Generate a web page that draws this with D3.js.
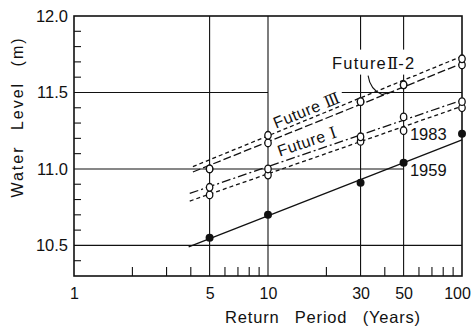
<!DOCTYPE html>
<html>
<head>
<meta charset="utf-8">
<script src="https://cdn.jsdelivr.net/npm/d3@7"></script>
<style>
  html, body { margin: 0; padding: 0; background: #fff; }
  svg { display: block; }
  text { font-family: "Liberation Sans", sans-serif; fill: #111; }
  tspan.numeral { font-family: "DejaVu Serif", "Liberation Serif", serif; }
</style>
</head>
<body>
<svg id="chart" width="472" height="329"></svg>
<script>
// Return periods (years) at which water levels were evaluated
const returnPeriods = [5, 10, 30, 50, 100];

// Water level (m) for each return period
const level1959      = [10.55, 10.70, 10.91, 11.04, 11.23];
const level1983      = [10.83, 10.96, 11.18, 11.25, 11.40];
const levelFutureI   = [10.88, 11.00, 11.21, 11.34, 11.44];
const levelFutureII2 = [11.00, 11.17, 11.44, 11.55, 11.68];
const levelFutureIII = [11.00, 11.22, 11.44, 11.55, 11.72];

// Fitted lines: [start, end] as [return period, water level]
const fit1959      = [[3.9, 10.49], [100, 11.19]];
const fit1983      = [[3.95, 10.79], [100, 11.41]];
const fitFutureI   = [[3.95, 10.84], [100, 11.45]];
const fitFutureII2 = [[4.1, 10.98], [100, 11.69]];
const fitFutureIII = [[4.1, 11.015], [100, 11.737]];

// Axis ticks
const xTickValues  = [1, 5, 10, 30, 50, 100];
const xMinorTicks  = [2, 3, 4, 6, 7, 8, 9, 20, 40, 60, 70, 80, 90];
const yTickValues  = [10.5, 11.0, 11.5, 12.0];
const yMinorTicks  = [10.4, 10.6, 10.7, 10.8, 10.9, 11.1, 11.2, 11.3, 11.4, 11.6, 11.7, 11.8, 11.9];

// Grid lines: horizontal [level, from period, to period], vertical periods
const hGrid = [[10.5, 1, 100], [11.0, 1, 50], [11.5, 1, 10], [11.5, 24, 100]];
const vGrid = [5, 10, 30, 50];

// Series labels: [word, roman numeral, suffix, period, level]
const labelFutureIII = ["Future ", "\u2162", "", 11.0, 11.263];
const labelFutureI   = ["Future ", "\u2160", "", 11.5, 11.080];
const labelFutureII2 = ["Future", "\u2161", "-2", 21.4, 11.656];
const label1983      = ["1983", 53.9, 11.192];
const label1959      = ["1959", 53.9, 10.956];
// Leader from the Future II-2 label to its line: start, control, end, tail
const leaderII2 = [[32.8, 11.61], [33.6, 11.518], [38.7, 11.486], [42.5, 11.502]];

const svg = d3.select("#chart");
const x = d3.scaleLog().domain([1, 100]).range([74, 462]);
const y = d3.scaleLinear().domain([10.3, 12.0]).range([276, 16]);

const ink = "#111";

// Grid
const grid = svg.append("g").attr("stroke", ink).attr("stroke-width", 1.1);
grid.selectAll("line.h").data(hGrid).join("line").attr("class", "h")
  .attr("x1", d => x(d[1])).attr("x2", d => x(d[2]))
  .attr("y1", d => y(d[0])).attr("y2", d => y(d[0]));
grid.selectAll("line.v").data(vGrid).join("line").attr("class", "v")
  .attr("x1", d => x(d)).attr("x2", d => x(d))
  .attr("y1", y(12.0)).attr("y2", y(10.3));

// Frame
svg.append("rect")
  .attr("x", x(1)).attr("y", y(12.0))
  .attr("width", x(100) - x(1)).attr("height", y(10.3) - y(12.0))
  .attr("fill", "none").attr("stroke", ink).attr("stroke-width", 1.6);

// Minor ticks, drawn inward
svg.append("g").attr("stroke", ink).attr("stroke-width", 1.1)
  .selectAll("line").data(xMinorTicks).join("line")
  .attr("x1", d => x(d)).attr("x2", d => x(d))
  .attr("y1", y(10.3)).attr("y2", y(10.3) - 9);
svg.append("g").attr("stroke", ink).attr("stroke-width", 1.1)
  .selectAll("line").data(yMinorTicks).join("line")
  .attr("x1", x(1)).attr("x2", x(1) + 7)
  .attr("y1", d => y(d)).attr("y2", d => y(d));

// Axes (labels only, frame carries the lines)
const xAxis = svg.append("g").attr("transform", `translate(0,${y(10.3)})`)
  .call(d3.axisBottom(x).tickValues(xTickValues).tickFormat(d3.format("d")).tickSize(0).tickPadding(12));
xAxis.select(".domain").remove();
xAxis.selectAll("text").attr("font-size", 16).attr("fill", ink)
  .attr("font-family", "Liberation Sans, sans-serif")
  .attr("dx", d => d === 100 ? -5 : 0);

const yAxis = svg.append("g").attr("transform", `translate(${x(1)},0)`)
  .call(d3.axisLeft(y).tickValues(yTickValues).tickFormat(d3.format(".1f")).tickSize(0).tickPadding(6));
yAxis.select(".domain").remove();
yAxis.selectAll("text").attr("font-size", 16.5).attr("fill", ink)
  .attr("font-family", "Liberation Sans, sans-serif");

// Axis titles
svg.append("text")
  .attr("x", 323).attr("y", 323)
  .attr("text-anchor", "middle")
  .attr("font-size", 16.5)
  .attr("letter-spacing", 0.8)
  .attr("word-spacing", 10)
  .text("Return Period (Years)");

svg.append("text")
  .attr("transform", "translate(23,117) rotate(-90)")
  .attr("text-anchor", "middle")
  .attr("font-size", 16)
  .attr("letter-spacing", 2)
  .attr("word-spacing", 9)
  .text("Water Level (m)");

// Fitted lines
const lineGen = d3.line().x(d => x(d[0])).y(d => y(d[1]));
const fits = [
  { pts: fit1959, dash: null },
  { pts: fit1983, dash: "4,3" },
  { pts: fitFutureI, dash: "9,3,2,3" },
  { pts: fitFutureII2, dash: "8,3" },
  { pts: fitFutureIII, dash: "4,3" }
];
svg.append("g").selectAll("path").data(fits).join("path")
  .attr("d", d => lineGen(d.pts))
  .attr("fill", "none").attr("stroke", ink).attr("stroke-width", 1.3)
  .attr("stroke-dasharray", d => d.dash);

// Markers
const openSeries = [level1983, levelFutureI, levelFutureII2, levelFutureIII];
openSeries.forEach(vals => {
  svg.append("g").selectAll("ellipse").data(returnPeriods.map((p, i) => [p, vals[i]])).join("ellipse")
    .attr("cx", d => x(d[0])).attr("cy", d => y(d[1]))
    .attr("rx", 3.2).attr("ry", 3.8)
    .attr("fill", "#fff").attr("stroke", ink).attr("stroke-width", 1.3);
});
svg.append("g").selectAll("circle").data(returnPeriods.map((p, i) => [p, level1959[i]])).join("circle")
  .attr("cx", d => x(d[0])).attr("cy", d => y(d[1]))
  .attr("r", 4).attr("fill", ink);

// Label text with the roman numeral set in a serif face (bars top and bottom)
function romanLabel(sel, lab) {
  sel.append("tspan").text(lab[0]);
  sel.append("tspan").attr("class", "numeral").attr("letter-spacing", 0).text(lab[1]);
  if (lab[2]) sel.append("tspan").text(lab[2]);
}

// Series labels along their lines
function slopeAngle(fit) {
  const [a, b] = fit;
  return Math.atan2(y(b[1]) - y(a[1]), x(b[0]) - x(a[0])) * 180 / Math.PI;
}
[[labelFutureIII, fitFutureIII], [labelFutureI, fitFutureI]].forEach(([lab, fit]) => {
  const t = svg.append("text")
    .attr("transform", `translate(${x(lab[3])},${y(lab[4])}) rotate(${slopeAngle(fit)})`)
    .attr("font-size", 16)
    .attr("letter-spacing", 0.6);
  romanLabel(t, lab);
});

// Horizontal label with a white knock-out behind it
const ii2 = svg.append("g");
const ii2Text = ii2.append("text")
  .attr("x", x(labelFutureII2[3])).attr("y", y(labelFutureII2[4]))
  .attr("font-size", 16.5)
  .attr("letter-spacing", 1.2);
romanLabel(ii2Text, labelFutureII2);
const bb = ii2Text.node().getBBox();
ii2.insert("rect", "text")
  .attr("x", bb.x - 2).attr("y", bb.y - 4)
  .attr("width", bb.width + 4).attr("height", bb.height + 6)
  .attr("fill", "#fff");

svg.append("path")
  .attr("d", `M${x(leaderII2[0][0])},${y(leaderII2[0][1])} Q${x(leaderII2[1][0])},${y(leaderII2[1][1])} ${x(leaderII2[2][0])},${y(leaderII2[2][1])} L${x(leaderII2[3][0])},${y(leaderII2[3][1])}`)
  .attr("fill", "none").attr("stroke", ink).attr("stroke-width", 1.1);

[label1983, label1959].forEach(lab => {
  svg.append("text")
    .attr("x", x(lab[1])).attr("y", y(lab[2]))
    .attr("font-size", 16.5)
    .text(lab[0]);
});
</script>
</body>
</html>
